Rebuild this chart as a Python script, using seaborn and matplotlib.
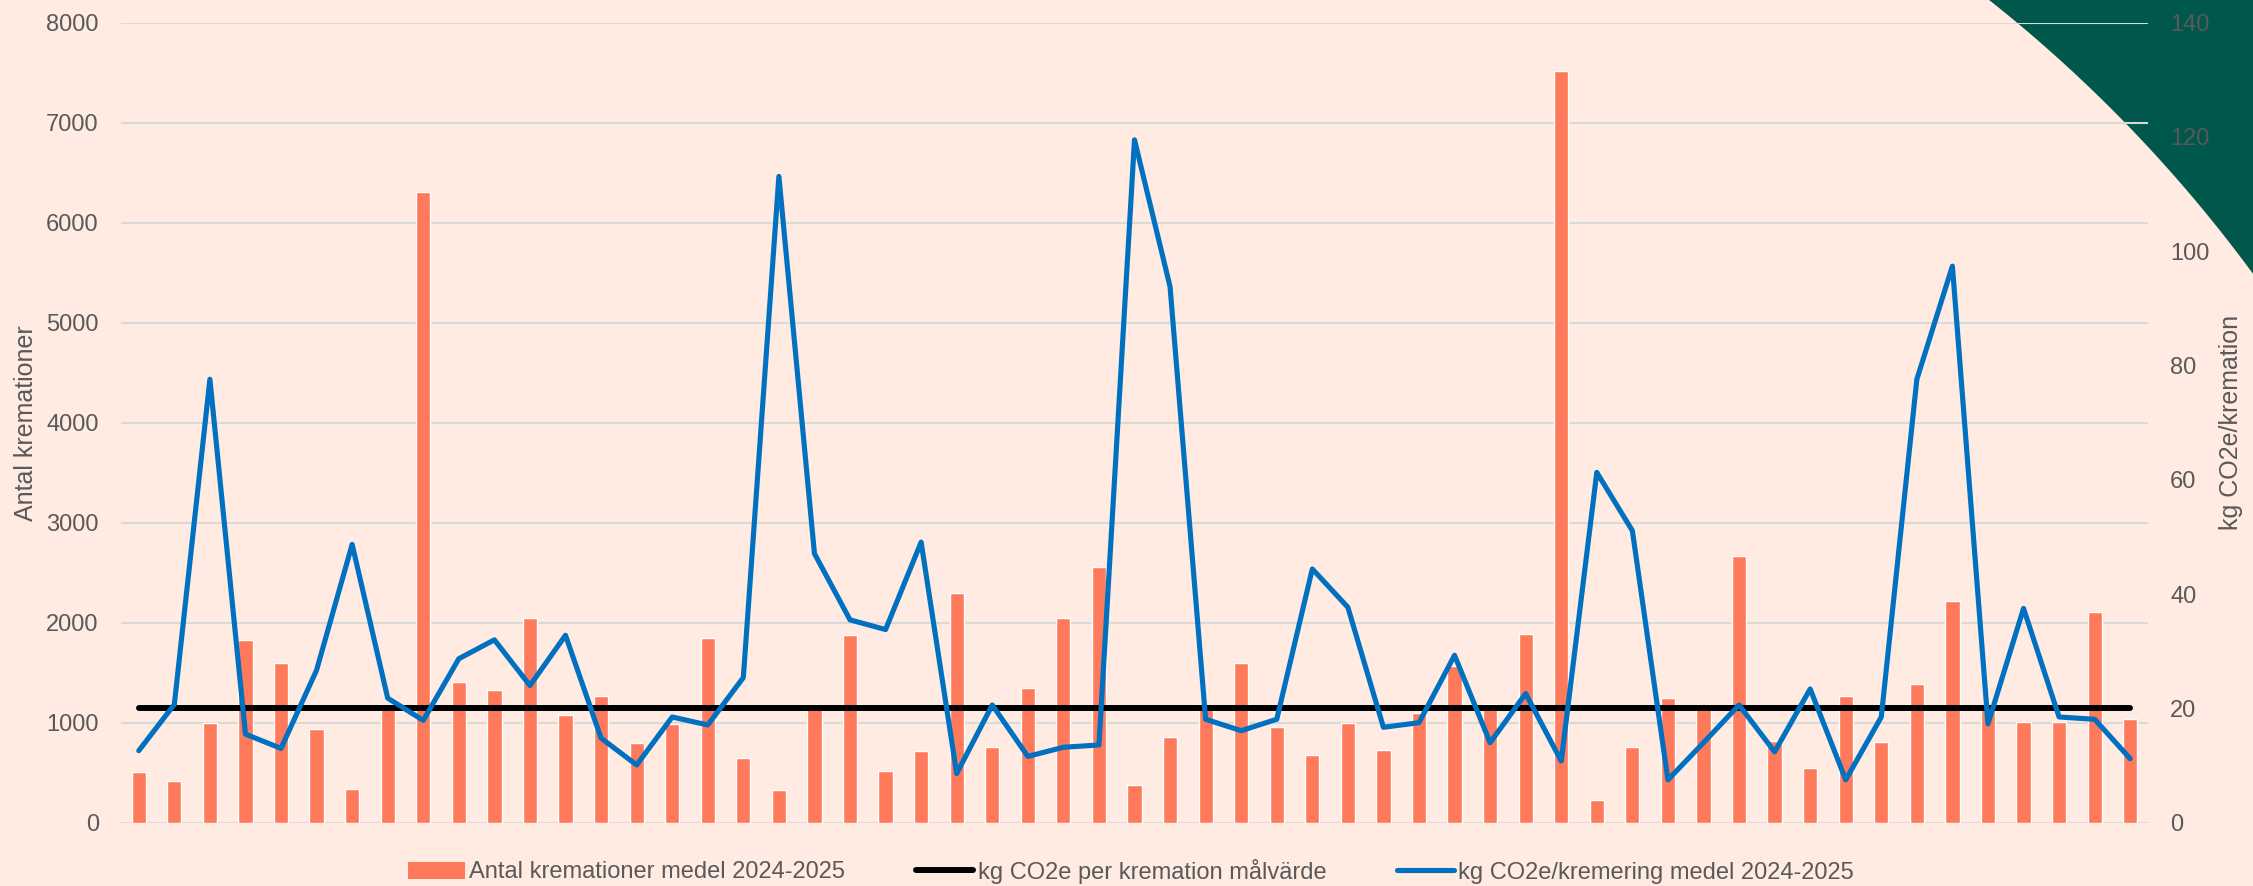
import numpy as np
import matplotlib
matplotlib.use("Agg")
import matplotlib.pyplot as plt
import seaborn as sns
from matplotlib.patches import Patch, Polygon
from matplotlib.lines import Line2D

# ---------------- data ----------------
categories = [str(i) for i in range(1, 58)]
antal = [508, 415, 1002, 1827, 1594, 941, 336, 1150, 6310, 1412,
         1328, 2046, 1076, 1263, 797, 983, 1850, 648, 331, 1150,
         1873, 517, 718, 2293, 755, 1351, 2050, 2554, 382, 857,
         1150, 1598, 955, 680, 1002, 727, 1095, 1570, 1188, 1883,
         7520, 228, 755, 1244, 1150, 2665, 815, 550, 1267, 811,
         1389, 2218, 1150, 1007, 1007, 2111, 1039]
co2 = [12.6, 20.7, 77.6, 15.5, 13.0, 26.7, 48.7, 21.8, 17.9, 28.7,
       32.0, 24.0, 32.8, 14.8, 10.1, 18.5, 17.1, 25.4, 113.1, 47.1,
       35.5, 33.8, 49.1, 8.6, 20.6, 11.6, 13.2, 13.6, 119.5, 93.8,
       18.1, 16.1, 18.1, 44.4, 37.7, 16.7, 17.5, 29.3, 14.0, 22.6,
       10.8, 61.3, 51.1, 7.5, 14.0, 20.6, 12.4, 23.4, 7.5, 18.5,
       77.6, 97.4, 17.3, 37.5, 18.5, 18.1, 11.2]
target = 20
left_ticks = list(range(0, 8001, 1000))
right_ticks = list(range(0, 141, 20))

label_bar = "Antal kremationer medel 2024-2025"
label_target = "kg CO2e per kremation målvärde"
label_line = "kg CO2e/kremering medel 2024-2025"

# ---------------- style ----------------
BG = "#FFEBE1"
GREEN = "#00574B"
CORAL = "#FF7A5A"
BLUE = "#0070C0"
TXT = "#595959"
GRID = "#D9D9D9"

sns.set_theme(style="white")
plt.rcParams["font.family"] = ["Liberation Sans", "DejaVu Sans"]

W, H = 2253, 886
fig = plt.figure(figsize=(W / 100, H / 100), dpi=100)
fig.patch.set_facecolor(BG)

# decorative green corner (outside of a large circle)
deco = fig.add_axes([0, 0, 1, 1], zorder=0)
deco.set_xlim(0, W)
deco.set_ylim(H, 0)
deco.axis("off")
cx, cy, r = 1102, 1119, 1428
a0 = np.arctan2(0 - cy, 1990 - cx)
a1 = np.arctan2(273 - cy, W - cx)
t = np.linspace(a0 - 0.01, a1 + 0.01, 200)
arc = np.column_stack([cx + r * np.cos(t), cy + r * np.sin(t)])
pts = np.vstack([arc, [[W + 10, arc[-1, 1]], [W + 10, -10], [arc[0, 0], -10]]])
deco.add_patch(Polygon(pts, closed=True, facecolor=GREEN, edgecolor="none"))

# main axes
x0, x1 = 121, 2148
y_top, y_bot = 22.7, 822.7
ax = fig.add_axes([x0 / W, 1 - y_bot / H, (x1 - x0) / W, (y_bot - y_top) / H], zorder=1)
ax.set_facecolor("none")

sns.barplot(x=categories, y=antal, color=CORAL, saturation=1, width=0.4,
            errorbar=None, ax=ax, zorder=2)
ax.set_xlim(-0.5, len(categories) - 0.5)
ax.set_ylim(0, 8000)
ax.set_yticks(left_ticks)
ax.set_xticks([])
ax.set_xlabel("")
ax.grid(axis="y", color=GRID, linewidth=1.5)
ax.set_axisbelow(True)
ax.tick_params(axis="y", length=0, pad=16, labelsize=17, labelcolor=TXT)
ax.set_ylabel("Antal kremationer", fontsize=18, color=TXT, va="center")
ax.yaxis.set_label_coords(-0.047, 0.5)
for s in ax.spines.values():
    s.set_visible(False)

ax2 = ax.twinx()
ax2.set_facecolor("none")
xpos = np.arange(len(categories))
sns.lineplot(x=xpos, y=[target] * len(categories), ax=ax2, color="black",
             linewidth=4.3, solid_capstyle="round", solid_joinstyle="round")
sns.lineplot(x=xpos, y=co2, ax=ax2, color=BLUE, linewidth=3.7,
             solid_capstyle="round", solid_joinstyle="round")
ax2.set_xlim(-0.5, len(categories) - 0.5)
ax2.set_ylim(0, 140)
ax2.set_yticks(right_ticks)
ax2.grid(False)
ax2.tick_params(axis="y", length=0, pad=16, labelsize=17, labelcolor=TXT)
ax2.set_ylabel("kg CO2e/kremation", fontsize=18, color=TXT, va="center")
ax2.yaxis.set_label_coords(1.041, 0.5)
for s in ax2.spines.values():
    s.set_visible(False)

handles = [Patch(facecolor=CORAL, edgecolor="none"),
           Line2D([], [], color="black", linewidth=4.3, solid_capstyle="round"),
           Line2D([], [], color=BLUE, linewidth=3.7, solid_capstyle="round")]
fig.legend(handles, [label_bar, label_target, label_line], loc="center",
           bbox_to_anchor=(1131 / W, 1 - 871 / H), ncol=3, frameon=False,
           fontsize=17, handlelength=2.4, handletextpad=0.2, columnspacing=3.0,
           labelcolor=TXT, borderpad=0)

fig.savefig("out.png", dpi=100, facecolor=BG)
